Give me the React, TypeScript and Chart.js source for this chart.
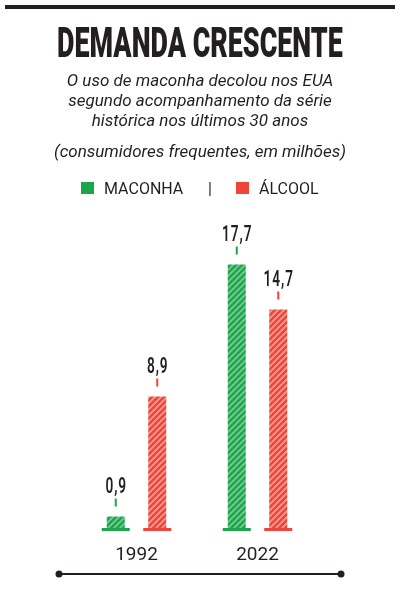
import React, { useEffect, useRef } from "react";
import { Chart, registerables } from "chart.js";

Chart.register(...registerables);

const categories = ["1992", "2022"];
const maconha = [0.9, 17.7];
const alcool = [8.9, 14.7];
const seriesNames = ["MACONHA", "ÁLCOOL"];
const titleText = "DEMANDA CRESCENTE";
const subtitleLines = [
  "O uso de maconha decolou nos EUA",
  "segundo acompanhamento da série",
  "histórica nos últimos 30 anos",
];
const unitText = "(consumidores frequentes, em milhões)";

const GREEN = "#1ba64c";
const GREEN_STRIPE = "#72cc8f";
const RED = "#ef4437";
const RED_STRIPE = "#f79990";
const INK = "#231f20";

function makePattern(base: string, stripe: string) {
  const c = document.createElement("canvas");
  c.width = 6;
  c.height = 6;
  const x = c.getContext("2d")!;
  x.fillStyle = base;
  x.fillRect(0, 0, 6, 6);
  x.strokeStyle = stripe;
  x.lineWidth = 1.9;
  x.beginPath();
  x.moveTo(-1, 7);
  x.lineTo(7, -1);
  x.moveTo(-1, 1);
  x.lineTo(1, -1);
  x.moveTo(5, 7);
  x.lineTo(7, 5);
  x.stroke();
  return x.createPattern(c, "repeat")!;
}

const decorPlugin = {
  id: "decor",
  afterDatasetsDraw(chart: any) {
    const ctx = chart.ctx as CanvasRenderingContext2D;
    chart.data.datasets.forEach((ds: any, di: number) => {
      const meta = chart.getDatasetMeta(di);
      meta.data.forEach((bar: any, i: number) => {
        const { x, y, base, width } = bar.getProps(["x", "y", "base", "width"], true);
        ctx.save();
        ctx.fillStyle = ds.solidColor;
        ctx.fillRect(x - width / 2 - 5, base - 2, width + 10, 3);
        ctx.fillRect(x - 1, y - 18, 2, 8);
        ctx.translate(x, y - 24);
        ctx.scale(0.62, 1);
        ctx.font = "600 22px Roboto";
        (ctx as any).letterSpacing = "1.5px";
        ctx.textAlign = "center";
        ctx.textBaseline = "alphabetic";
        ctx.fillStyle = INK;
        ctx.fillText(String(ds.data[i]).replace(".", ","), 0.75, 0);
        ctx.restore();
      });
    });
  },
  afterDraw(chart: any) {
    const ctx = chart.ctx as CanvasRenderingContext2D;
    ctx.save();
    ctx.strokeStyle = INK;
    ctx.fillStyle = INK;
    ctx.lineWidth = 2;
    ctx.beginPath();
    ctx.moveTo(59, 574);
    ctx.lineTo(341, 574);
    ctx.stroke();
    [59, 341].forEach((cx) => {
      ctx.beginPath();
      ctx.arc(cx, 574, 3.5, 0, Math.PI * 2);
      ctx.fill();
    });
    ctx.restore();
  },
};

export default function App() {
  const ref = useRef<HTMLCanvasElement>(null);

  useEffect(() => {
    const chart = new Chart(ref.current!, {
      type: "bar",
      data: {
        labels: categories,
        datasets: [
          {
            label: seriesNames[0],
            data: maconha,
            backgroundColor: makePattern(GREEN, GREEN_STRIPE),
            solidColor: GREEN,
            categoryPercentage: 0.686,
            barPercentage: 0.434,
          } as any,
          {
            label: seriesNames[1],
            data: alcool,
            backgroundColor: makePattern(RED, RED_STRIPE),
            solidColor: RED,
            categoryPercentage: 0.686,
            barPercentage: 0.434,
          } as any,
        ],
      },
      options: {
        responsive: false,
        animation: false,
        layout: { padding: { top: 230, left: 76, right: 82, bottom: 41 } },
        plugins: { legend: { display: false }, tooltip: { enabled: false } },
        scales: {
          x: {
            grid: { display: false, drawTicks: false },
            border: { display: false },
            ticks: { color: INK, font: { family: "Roboto", size: 19 }, padding: 14 },
            afterFit: (s: any) => {
              s.height = 40;
            },
          },
          y: { display: false, min: 0, max: 20 },
        },
      },
      plugins: [decorPlugin],
    });
    return () => chart.destroy();
  }, []);

  const abs = (o: React.CSSProperties): React.CSSProperties => ({ position: "absolute", ...o });

  return (
    <div style={abs({ left: 0, top: 0, width: 400, height: 611, background: "#fff", overflow: "hidden", fontFamily: "Roboto", color: INK })}>
      <canvas ref={ref} width={400} height={611} style={abs({ left: 0, top: 0, width: 400, height: 611 })} />
      <div style={abs({ left: 5, top: 5, width: 390, height: 4, background: INK })} />
      <div style={abs({ left: -200, top: 21.6, width: 800, textAlign: "center", fontSize: 42, lineHeight: "42px", fontWeight: 900, transform: "scaleX(0.64)", transformOrigin: "400px 0", whiteSpace: "nowrap" })}>
        {titleText}
      </div>
      <div style={abs({ left: 0, top: 70.2, width: 400, textAlign: "center", fontSize: 17, lineHeight: "20px", fontStyle: "italic" })}>
        {subtitleLines.map((l) => (
          <div key={l}>{l}</div>
        ))}
      </div>
      <div style={abs({ left: 0, top: 141.2, width: 400, textAlign: "center", fontSize: 17, lineHeight: "20px", fontStyle: "italic" })}>{unitText}</div>
      <div style={abs({ left: 81, top: 182, width: 13, height: 12, background: GREEN })} />
      <div style={abs({ left: 104, top: 180.5, fontSize: 16, lineHeight: "16px" })}>{seriesNames[0]}</div>
      <div style={abs({ left: 208, top: 180.5, fontSize: 16, lineHeight: "16px" })}>|</div>
      <div style={abs({ left: 236, top: 182, width: 13, height: 12, background: RED })} />
      <div style={abs({ left: 259, top: 180.5, fontSize: 16, lineHeight: "16px" })}>{seriesNames[1]}</div>
    </div>
  );
}
